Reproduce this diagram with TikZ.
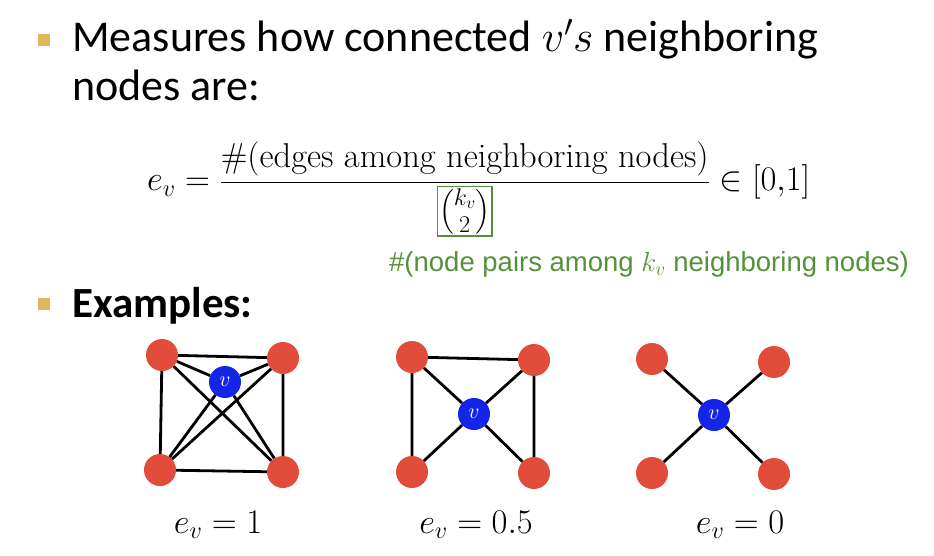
\documentclass[tikz,border=0pt]{standalone}
\usepackage{fix-cm}
\usepackage{amsmath}
\usepackage[no-math]{fontspec}
\newfontfamily\calibrifont{Carlito}
\newfontfamily\arialfont{Liberation Sans}
\usepackage{xcolor}
\definecolor{bulletgold}{RGB}{226,184,92}
\definecolor{nodered}{RGB}{226,76,58}
\definecolor{nodeblue}{RGB}{20,36,232}
\definecolor{notegreen}{RGB}{84,145,56}
\tikzset{
  bulletbox/.style={fill=bulletgold, minimum size=12pt, inner sep=0pt},
  slidetext/.style={font=\calibrifont\fontsize{44}{50}\selectfont, inner sep=0pt, anchor=base west},
  notetext/.style={font=\arialfont\fontsize{27.5}{32}\selectfont, text=notegreen, inner sep=0pt, anchor=base west},
  mathtext/.style={font=\fontsize{34.5}{40}\selectfont, inner sep=0pt, anchor=base},
  nbr/.style={circle, fill=nodered, minimum size=32pt, inner sep=0pt},
  ctr/.style={circle, fill=nodeblue, minimum size=32pt, inner sep=0pt, text=white, font=\fontsize{22}{26}\selectfont},
  link/.style={line width=2.8pt}
}

\begin{document}
\begin{tikzpicture}[x=1pt,y=-1pt]
  \useasboundingbox (0,0) rectangle (934,556);
  % bullets and text
  \node[bulletbox] (b1) at (44,40) {};
  \node[slidetext] (l1) at (72,52) {Measures how connected $v's$ neighboring};
  \node[slidetext] (l2) at (72,101) {nodes are:};
  \node[mathtext, anchor=base west] (ev) at (147,191)
    {$e_v = \dfrac{\text{\#(edges among neighboring nodes)}}{\setlength{\fboxsep}{1pt}\setlength{\fboxrule}{1.4pt}\fcolorbox{notegreen}{white}{$\binom{k_v}{2}$}} \in [0{,}1]$};
  \node[notetext] (note) at (389,271) {\#(node pairs among $k_v$ neighboring nodes)};
  \node[bulletbox] (b2) at (44,304) {};
  \node[slidetext, font=\calibrifont\bfseries\fontsize{43}{50}\selectfont] (l3) at (72,317) {Examples:};

  % e_v = 1
  \node[nbr] (a1) at (162,355) {};
  \node[nbr] (a2) at (283,358) {};
  \node[nbr] (a3) at (160,470) {};
  \node[nbr] (a4) at (283,472) {};
  \node[ctr] (av) at (225,382) {$v$};
  \draw[link] (a1) -- (a2) -- (a4) -- (a3) -- (a1);
  \draw[link] (a1) -- (a4);
  \draw[link] (a2) -- (a3);
  \draw[link] (av) -- (a1);
  \draw[link] (av) -- (a2);
  \draw[link] (av) -- (a3);
  \draw[link] (av) -- (a4);
  \node[mathtext] (la) at (218,533) {$e_v = 1$};

  % e_v = 0.5
  \node[nbr] (c1) at (412,357) {};
  \node[nbr] (c2) at (534,360) {};
  \node[nbr] (c3) at (412,472) {};
  \node[nbr] (c4) at (534,473) {};
  \node[ctr] (cv) at (474,414) {$v$};
  \draw[link] (c3) -- (c1) -- (c2) -- (c4);
  \draw[link] (cv) -- (c1);
  \draw[link] (cv) -- (c2);
  \draw[link] (cv) -- (c3);
  \draw[link] (cv) -- (c4);
  \node[mathtext] (lc) at (476,533) {$e_v = 0.5$};

  % e_v = 0
  \node[nbr] (d1) at (652,359) {};
  \node[nbr] (d2) at (774,362) {};
  \node[nbr] (d3) at (652,473) {};
  \node[nbr] (d4) at (774,474) {};
  \node[ctr] (dv) at (714,415) {$v$};
  \draw[link] (dv) -- (d1);
  \draw[link] (dv) -- (d2);
  \draw[link] (dv) -- (d3);
  \draw[link] (dv) -- (d4);
  \node[mathtext] (ld) at (740,533) {$e_v = 0$};
\end{tikzpicture}
\end{document}
